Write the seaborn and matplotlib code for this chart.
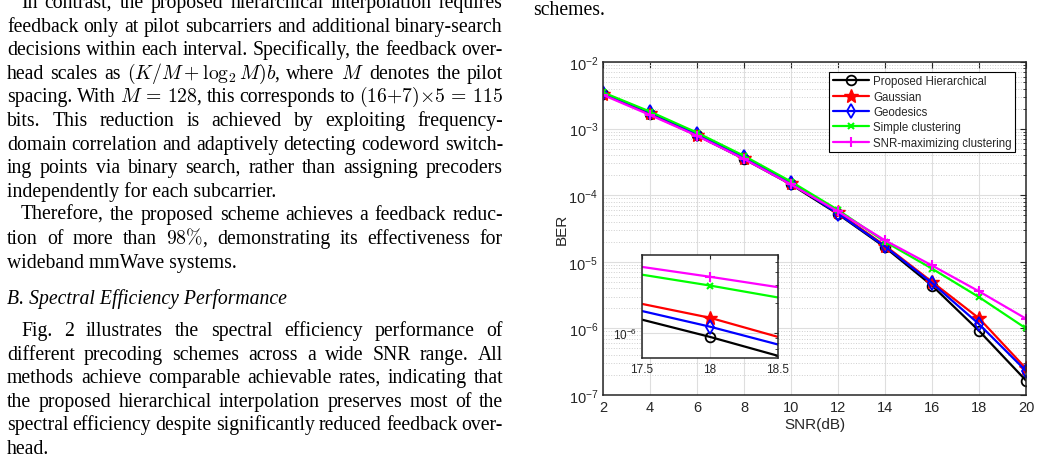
import re
import numpy as np
import pandas as pd
import matplotlib
matplotlib.use('Agg')
import matplotlib.pyplot as plt
import matplotlib.ticker as mticker
import matplotlib.transforms as mtransforms
import seaborn as sns

sns.set_theme(style='white')
plt.rcParams['font.family'] = ['Liberation Sans', 'DejaVu Sans']
plt.rcParams['mathtext.fontset'] = 'cm'
plt.rcParams['axes.unicode_minus'] = True

# ---- data ----
snr = [2, 4, 6, 8, 10, 12, 14, 16, 18, 20]
ber_proposed = [3.30e-3, 1.65e-3, 7.9e-4, 3.5e-4, 1.45e-4, 5.2e-5, 1.65e-5, 4.4e-6, 0.92e-6, 1.65e-7]
ber_gaussian = [3.35e-3, 1.70e-3, 8.1e-4, 3.6e-4, 1.50e-4, 5.5e-5, 1.75e-5, 5.0e-6, 1.42e-6, 2.5e-7]
ber_geodesic = [3.40e-3, 1.75e-3, 8.3e-4, 3.7e-4, 1.52e-4, 5.3e-5, 1.70e-5, 4.8e-6, 1.16e-6, 2.3e-7]
ber_simple = [3.50e-3, 1.80e-3, 8.7e-4, 3.9e-4, 1.60e-4, 6.0e-5, 2.00e-5, 7.9e-6, 2.95e-6, 1.0e-6]
ber_snrmax = [3.20e-3, 1.60e-3, 7.8e-4, 3.5e-4, 1.45e-4, 5.7e-5, 2.10e-5, 8.8e-6, 3.60e-6, 1.4e-6]

schemes = ['Proposed Hierarchical', 'Gaussian', 'Geodesics',
           'Simple clustering', 'SNR-maximizing clustering']
colors = ['black', 'red', 'blue', '#00ff00', 'magenta']
markers = ['o', '*', 'd', 'x', '+']

df = pd.DataFrame({
    'snr': snr * 5,
    'ber': ber_proposed + ber_gaussian + ber_geodesic + ber_simple + ber_snrmax,
    'scheme': np.repeat(schemes, len(snr)),
})

W, H = 1039, 456
fig = plt.figure(figsize=(W / 100, H / 100), dpi=100)

def fbox(x0, y0, x1, y1):
    # pixel box (top-left origin) -> figure fraction rect
    return [x0 / W, 1 - y1 / H, (x1 - x0) / W, (y1 - y0) / H]

MSTYLE = {
    'o': dict(ms=7, mfc='none', mew=1.3),
    '*': dict(ms=10.5, mew=1.0),
    'd': dict(ms=7.5, mfc='none', mew=1.3),
    'x': dict(ms=5, mew=1.5),
    '+': dict(ms=7.5, mew=1.5),
}

def draw_series(ax, with_label):
    for name, c, m in zip(schemes, colors, markers):
        sub = df[df['scheme'] == name]
        st = dict(MSTYLE[m])
        if 'mfc' not in st:
            st['mfc'] = c
        kw = dict(label=name) if with_label else {}
        sns.lineplot(data=sub, x='snr', y='ber', ax=ax, color=c, marker=m,
                     mec=c, lw=1.6, legend=False, **st, **kw)

TXT = '#262626'

# ---- main axes ----
ax = fig.add_axes(fbox(603, 63, 1026, 396))
ax.set_yscale('log')
draw_series(ax, True)
ax.set_xlim(2, 20)
ax.set_ylim(1e-7, 1e-2)
ax.set_xticks(range(2, 21, 2))
ax.yaxis.set_major_locator(mticker.LogLocator(base=10, numticks=10))
ax.yaxis.set_minor_locator(mticker.LogLocator(base=10, subs=np.arange(2, 10), numticks=20))
ax.yaxis.set_minor_formatter(mticker.NullFormatter())
ax.set_axisbelow(True)
ax.grid(which='major', color='#dedede', lw=0.8)
ax.grid(which='minor', axis='y', color='#cfcfcf', ls=':', lw=0.7)
ax.tick_params(which='both', direction='in', top=True, right=True,
               colors=TXT, labelsize=10.5)
ax.tick_params(which='major', length=4, width=0.8)
ax.tick_params(which='minor', length=2, width=0.6)
for s in ax.spines.values():
    s.set_color(TXT)
    s.set_linewidth(1.1)
ax.set_xlabel('SNR(dB)', fontsize=11, color=TXT, labelpad=2)
ax.set_ylabel('BER', fontsize=11, color=TXT, labelpad=0)

leg = ax.legend(loc='upper right', bbox_to_anchor=(0.974, 0.971),
                borderaxespad=0, frameon=True, fancybox=False,
                edgecolor='black', framealpha=1, fontsize=8.3,
                handlelength=3.2, borderpad=0.3, labelspacing=0.3,
                handletextpad=0.3)
leg.get_frame().set_linewidth(0.8)

# ---- inset zoom around 18 dB ----
axins = fig.add_axes(fbox(642, 256, 778, 359))
axins.set_yscale('log')
draw_series(axins, False)
axins.set_xlim(17.5, 18.5)
axins.set_ylim(5.7e-7, 5.9e-6)
axins.set_xticks([17.5, 18, 18.5])
axins.set_xticklabels(['17.5', '18', '18.5'])
axins.yaxis.set_major_locator(mticker.LogLocator(base=10, numticks=10))
axins.yaxis.set_minor_locator(mticker.LogLocator(base=10, subs=np.arange(2, 10), numticks=20))
axins.yaxis.set_minor_formatter(mticker.NullFormatter())
axins.set_axisbelow(True)
axins.grid(which='major', color='#dedede', lw=0.8)
axins.tick_params(which='both', direction='in', top=True, right=True,
                  colors=TXT, labelsize=8.5)
axins.tick_params(which='major', length=3, width=0.8)
axins.tick_params(which='minor', length=2, width=0.6)
axins.set_xlabel('')
axins.set_ylabel('')
for s in axins.spines.values():
    s.set_color(TXT)
    s.set_linewidth(1.1)

# ---- surrounding page text ----
fig.canvas.draw()
renderer = fig.canvas.get_renderer()
ident = mtransforms.IdentityTransform()
TOKEN = re.compile(r'(?:\$[^$]*\$|[^\s$])+')
BODY = dict(family=['Liberation Serif', 'DejaVu Serif'], size=14.2, color='black')

def put_line(s, y, justify, indent=0, x0=7, x1=503, **extra):
    kw = dict(BODY, **extra)
    yd = round(H - y)
    if not justify:
        fig.text(x0 + indent, yd, s, transform=ident, ha='left', va='baseline', **kw)
        return
    words = TOKEN.findall(s)
    arts = [fig.text(0, yd, w, transform=ident, ha='left', va='baseline', **kw)
            for w in words]
    widths = [a.get_window_extent(renderer).width for a in arts]
    gap = (x1 - x0 - indent - sum(widths)) / (len(words) - 1)
    x = x0 + indent
    for a, w in zip(arts, widths):
        a.set_x(x)
        x += w + gap

body_lines = [
    ('In contrast, the proposed hierarchical interpolation requires', True, 14),
    ('feedback only at pilot subcarriers and additional binary-search', True, 0),
    ('decisions within each interval. Specifically, the feedback over-', True, 0),
    (r'head scales as $(K/M + \log_2 M)b$, where $M$ denotes the pilot', True, 0),
    (r'spacing. With $M\,=\,128$, this corresponds to $(16{+}7){\times}5\,=\,115$', True, 0),
    ('bits. This reduction is achieved by exploiting frequency-', True, 0),
    ('domain correlation and adaptively detecting codeword switch-', True, 0),
    ('ing points via binary search, rather than assigning precoders', True, 0),
    ('independently for each subcarrier.', False, 0),
    ('Therefore, the proposed scheme achieves a feedback reduc-', True, 14),
    (r'tion of more than $98\%$, demonstrating its effectiveness for', True, 0),
    ('wideband mmWave systems.', False, 0),
]
for i, (s, j, ind) in enumerate(body_lines):
    put_line(s, 8 + 23.6 * i, j, ind)

put_line('B. Spectral Efficiency Performance', 304, False, style='italic')

para2 = [
    ('Fig. 2 illustrates the spectral efficiency performance of', True, 14),
    ('different precoding schemes across a wide SNR range. All', True, 0),
    ('methods achieve comparable achievable rates, indicating that', True, 0),
    ('the proposed hierarchical interpolation preserves most of the', True, 0),
    ('spectral efficiency despite significantly reduced feedback over-', True, 0),
    ('head.', False, 0),
]
for i, (s, j, ind) in enumerate(para2):
    put_line(s, 336 + 23.6 * i, j, ind)

put_line('schemes.', 15, False, x0=533)

fig.savefig('out.png', dpi=100)
